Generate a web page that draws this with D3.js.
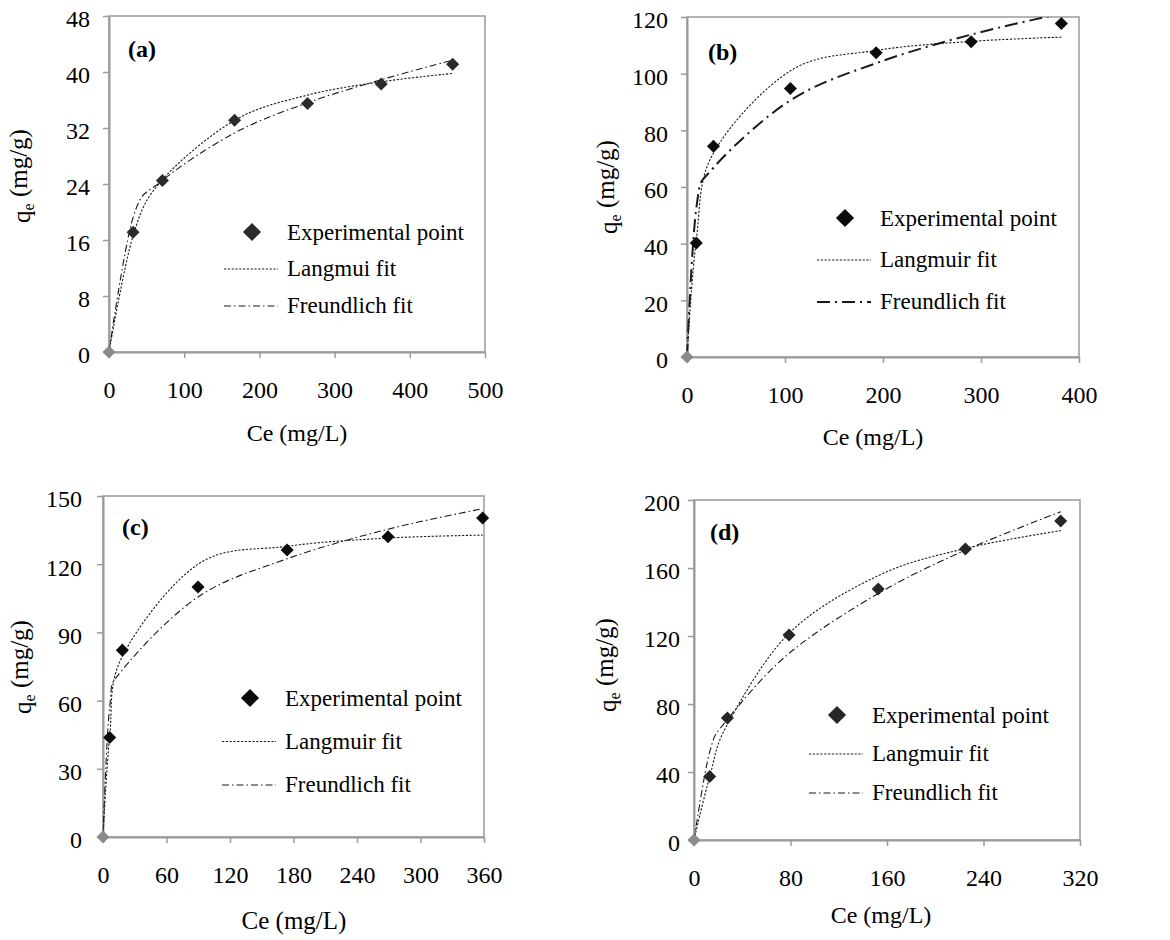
<!DOCTYPE html>
<html>
<head>
<meta charset="utf-8">
<script src="https://cdn.jsdelivr.net/npm/d3@7"></script>
<style>
  body { margin: 0; background: #fff; }
  text { font-family: "Liberation Serif", "Times New Roman", serif; fill: #000; }
</style>
</head>
<body>
<svg id="chart" width="1170" height="940"></svg>
<script>
// panel (a)
const ceA = [0, 32, 71, 167, 264, 362, 457];
const qExpA = [0, 17.1, 24.5, 33.1, 35.5, 38.3, 41.1];
const qLangA = [0, 16.6, 24.6, 33.1, 36.7, 38.6, 39.8];
const qFreuA = [0, 19.2, 24.5, 31.3, 35.6, 38.9, 41.7];
const xTicksA = [0, 100, 200, 300, 400, 500];
const yTicksA = [0, 8, 16, 24, 32, 40, 48];

// panel (b)
const ceB = [0, 9.5, 27, 105.5, 193, 290, 382];
const qExpB = [0, 40.2, 74.4, 94.8, 107.4, 111.3, 117.7];
const qLangB = [0, 41.5, 72, 101, 108.2, 111.4, 112.9];
const qFreuB = [0, 52.5, 66.8, 90.6, 103.7, 113.8, 121.2];
const xTicksB = [0, 100, 200, 300, 400];
const yTicksB = [0, 20, 40, 60, 80, 100, 120];

// panel (c)
const ceC = [0, 6.3, 18.3, 89.8, 174, 269.3, 358.7];
const qExpC = [0, 43.8, 82.2, 110, 126.2, 132.1, 140.3];
const qLangC = [0, 44, 79.5, 120, 127.9, 131.5, 132.8];
const qFreuC = [0, 57, 73.5, 105.6, 122.4, 135.4, 144.4];
const xTicksC = [0, 60, 120, 180, 240, 300, 360];
const yTicksC = [0, 30, 60, 90, 120, 150];

// panel (d)
const ceD = [0, 13, 27.7, 78.8, 152.7, 225, 304];
const qExpD = [0, 37.3, 71.8, 120.6, 147.6, 171.2, 187.6];
const qLangD = [0, 37.2, 68, 121.6, 155.5, 171.5, 182];
const qFreuD = [0, 51.7, 70.9, 109.8, 145, 170.5, 193.1];
const xTicksD = [0, 80, 160, 240, 320];
const yTicksD = [0, 40, 80, 120, 160, 200];

const legendA = ["Experimental point", "Langmui fit", "Freundlich fit"];
const legendBCD = ["Experimental point", "Langmuir fit", "Freundlich fit"];

const panels = [
  { tag: "(a)", ce: ceA, exp: qExpA, lang: qLangA, freu: qFreuA, xTicks: xTicksA, yTicks: yTicksA, legend: legendA,
    l: 109, r: 485, t: 16, b: 352, yGap: 13, xTitle: [297, 441], yTitle: [22, 176], tagPos: [128, 57],
    leg: [224, 232], rowGap: 37, fill: "#2b2b2b", freuDash: "7,3,1.5,3", freuWidth: 1.1, titleSize: 24 },
  { tag: "(b)", ce: ceB, exp: qExpB, lang: qLangB, freu: qFreuB, xTicks: xTicksB, yTicks: yTicksB, legend: legendBCD,
    l: 687, r: 1079, t: 17, b: 357, yGap: 13, xTitle: [873, 445], yTitle: [609, 187], tagPos: [708, 60],
    leg: [817, 218], rowGap: 42, fill: "#0b0b0b", freuDash: "13,5,2,5", freuWidth: 2, titleSize: 24 },
  { tag: "(c)", ce: ceC, exp: qExpC, lang: qLangC, freu: qFreuC, xTicks: xTicksC, yTicks: yTicksC, legend: legendBCD,
    l: 103, r: 484, t: 496, b: 837, yGap: 15, xTitle: [294, 929], yTitle: [23, 667], tagPos: [122, 535],
    leg: [222, 698], rowGap: 43.5, fill: "#0b0b0b", freuDash: "7,3,1.5,3", freuWidth: 1.1, titleSize: 25 },
  { tag: "(d)", ce: ceD, exp: qExpD, lang: qLangD, freu: qFreuD, xTicks: xTicksD, yTicks: yTicksD, legend: legendBCD,
    l: 694, r: 1080, t: 500, b: 840, yGap: 8, xTitle: [881, 923], yTitle: [608, 665], tagPos: [710, 540],
    leg: [809, 715], rowGap: 39, fill: "#262626", freuDash: "7,3,1.5,3", freuWidth: 1.1, titleSize: 24 }
];

const svg = d3.select("#chart");
const axisColor = "#9a9a9a";

panels.forEach((p, i) => {
  const x = d3.scaleLinear()
      .domain([0, d3.max(p.xTicks)])
      .range([p.l, p.r]);
  const y = d3.scaleLinear()
      .domain([0, d3.max(p.yTicks)])
      .range([p.b, p.t]);

  const g = svg.append("g");

  // box (top and right edges)
  g.append("rect")
      .attr("x", p.l)
      .attr("y", p.t)
      .attr("width", p.r - p.l)
      .attr("height", p.b - p.t)
      .attr("fill", "none")
      .attr("stroke", axisColor)
      .attr("stroke-width", 1.5);

  const xAx = g.append("g")
      .attr("transform", `translate(0, ${p.b})`)
      .call(d3.axisBottom(x).tickValues(p.xTicks).tickSize(6).tickSizeOuter(0));
  xAx.selectAll("text")
      .attr("y", 46)
      .attr("dy", null)
      .attr("font-size", 24);

  const yAx = g.append("g")
      .attr("transform", `translate(${p.l}, 0)`)
      .call(d3.axisLeft(y).tickValues(p.yTicks).tickSize(6).tickSizeOuter(0).tickPadding(p.yGap));
  yAx.selectAll("text")
      .attr("dy", "0.45em")
      .attr("font-size", 24);

  [xAx, yAx].forEach(ax => {
    ax.attr("font-family", null);
    ax.select(".domain").attr("stroke", axisColor).attr("stroke-width", 2);
    ax.selectAll(".tick line").attr("stroke", axisColor).attr("stroke-width", 1.5);
  });

  // clip for the fit lines
  svg.append("clipPath")
      .attr("id", "clip" + i)
    .append("rect")
      .attr("x", p.l - 2)
      .attr("y", p.t)
      .attr("width", p.r - p.l + 4)
      .attr("height", p.b - p.t + 2);

  const pts = (vals) => p.ce.map((c, k) => [c, vals[k]]);
  const line = d3.line()
      .x(d => x(d[0]))
      .y(d => y(d[1]))
      .curve(d3.curveCardinal.tension(0));

  g.append("path")
      .attr("d", line(pts(p.lang)))
      .attr("clip-path", `url(#clip${i})`)
      .attr("fill", "none")
      .attr("stroke", "#1a1a1a")
      .attr("stroke-width", 1.1)
      .attr("stroke-dasharray", "2.2,1.6");

  g.append("path")
      .attr("d", line(pts(p.freu)))
      .attr("clip-path", `url(#clip${i})`)
      .attr("fill", "none")
      .attr("stroke", "#1a1a1a")
      .attr("stroke-width", p.freuWidth)
      .attr("stroke-dasharray", p.freuDash);

  // experimental points as diamonds
  const diamond = d3.symbol().type(d3.symbolSquare).size(85);
  g.selectAll("path.pt")
      .data(pts(p.exp))
      .enter()
      .append("path")
        .attr("class", "pt")
        .attr("d", diamond)
        .attr("transform", d => `translate(${x(d[0])}, ${y(d[1])}) rotate(45)`)
        .attr("fill", d => d[0] === 0 ? "#8a8a8a" : p.fill);

  // panel tag
  g.append("text")
      .attr("x", p.tagPos[0])
      .attr("y", p.tagPos[1])
      .attr("font-size", 24)
      .attr("font-weight", "bold")
      .text(p.tag);

  // axis titles
  g.append("text")
      .attr("x", p.xTitle[0])
      .attr("y", p.xTitle[1])
      .attr("text-anchor", "middle")
      .attr("font-size", p.titleSize)
      .text("Ce (mg/L)");

  const yt = g.append("text")
      .attr("transform", `translate(${p.yTitle[0]}, ${p.yTitle[1]}) rotate(-90)`)
      .attr("text-anchor", "middle")
      .attr("dy", "0.3em")
      .attr("font-size", 25);
  yt.append("tspan").text("q");
  yt.append("tspan").attr("font-size", 16).attr("dy", "0.25em").text("e");
  yt.append("tspan").attr("dy", "-0.25em").text(" (mg/g)");

  // legend
  const lx = p.leg[0], ly = p.leg[1];
  g.append("path")
      .attr("d", d3.symbol().type(d3.symbolSquare).size(165))
      .attr("transform", `translate(${lx + 28}, ${ly}) rotate(45)`)
      .attr("fill", p.fill);
  g.append("text")
      .attr("x", lx + 63)
      .attr("y", ly + 8)
      .attr("font-size", 23)
      .text(p.legend[0]);

  const rows = [
    { dash: "2.2,1.6", w: 1.1, label: p.legend[1] },
    { dash: p.freuDash, w: p.freuWidth, label: p.legend[2] }
  ];
  rows.forEach((row, k) => {
    const ry = ly + p.rowGap * (k + 1);
    g.append("line")
        .attr("x1", lx)
        .attr("x2", lx + 54)
        .attr("y1", ry)
        .attr("y2", ry)
        .attr("stroke", "#1a1a1a")
        .attr("stroke-width", row.w)
        .attr("stroke-dasharray", row.dash);
    g.append("text")
        .attr("x", lx + 63)
        .attr("y", ry + 7)
        .attr("font-size", 23)
        .text(row.label);
  });
});
</script>
</body>
</html>
